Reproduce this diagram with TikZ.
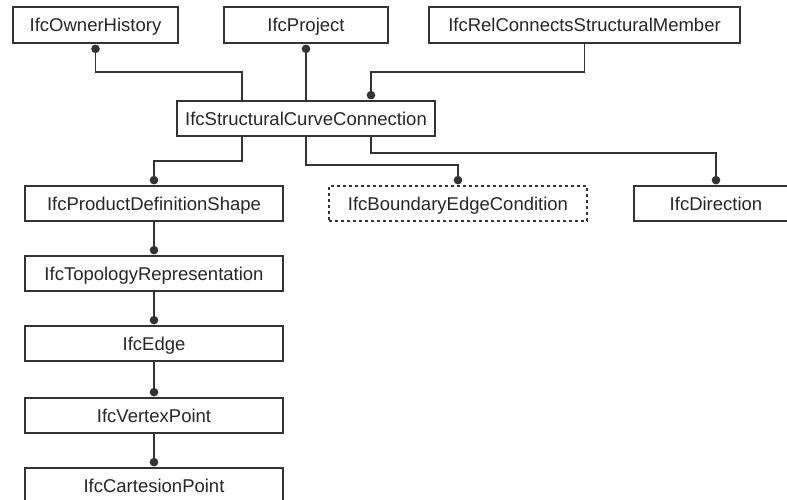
\documentclass[tikz,border=0pt]{standalone}
\usepackage{fontspec}
\setmainfont{Liberation Sans}
\usetikzlibrary{arrows.meta}
\begin{document}
\begin{tikzpicture}[x=1pt,y=-1pt,
  ent/.style={draw=black!80, line width=1.2pt, rectangle, inner sep=0pt,
    minimum height=36pt, text height=13.3pt, text depth=0pt,
    font=\fontsize{18.5}{20}\selectfont, text=black!85},
  entd/.style={ent, dashed, dash pattern=on 3pt off 3pt},
  conn/.style={draw=black!80, line width=1.2pt},
  dotend/.style={conn, -{Circle[length=8.5pt, width=8.5pt]}, shorten >=1pt},
  dotstart/.style={conn, {Circle[length=8.5pt, width=8.5pt]}-, shorten <=1pt}]
\useasboundingbox (0,0) rectangle (787,499);
\fill[white] (0,0) rectangle (787,499);
% top row
\node[ent, minimum width=165pt] (own) at (95.5,25) {IfcOwnerHistory};
\node[ent, minimum width=164pt] (proj) at (306,25) {IfcProject};
\node[ent, minimum width=311pt] (rel) at (584.5,25) {IfcRelConnectsStructuralMember};
% central
\node[ent, minimum width=258pt, minimum height=35pt] (scc) at (306,118.5) {IfcStructuralCurveConnection};
% second row
\node[ent, minimum width=258pt, minimum height=35pt] (pds) at (154,203.5) {IfcProductDefinitionShape};
\node[entd, minimum width=258pt, minimum height=35pt] (bec) at (458,203.5) {IfcBoundaryEdgeCondition};
\node[ent, minimum width=164pt, minimum height=35pt] (dir) at (716,203.5) {IfcDirection};
% chain
\node[ent, minimum width=258pt, minimum height=35pt] (topo) at (154,273.5) {IfcTopologyRepresentation};
\node[ent, minimum width=258pt, minimum height=35pt] (edge) at (154,343.5) {IfcEdge};
\node[ent, minimum width=258pt, minimum height=35pt] (vert) at (154,415.5) {IfcVertexPoint};
\node[ent, minimum width=258pt, minimum height=35pt] (cart) at (154,485.5) {IfcCartesionPoint};
% connectors top
\draw[dotstart] (own.south) |- (242,72) -- ([xshift=-64pt]scc.north);
\draw[dotstart] (proj.south) -- (scc.north);
\draw[dotend] (rel.south) |- (371,72) -- ([xshift=65pt]scc.north);
% connectors from scc
\draw[dotend] ([xshift=-64pt]scc.south) |- (154,161) -- (pds.north);
\draw[dotend] (scc.south) |- (458,165) -- (bec.north);
\draw[dotend] ([xshift=65pt]scc.south) |- (716,153) -- (dir.north);
% chain
\draw[dotend] (pds.south) -- (topo.north);
\draw[dotend] (topo.south) -- (edge.north);
\draw[dotend] (edge.south) -- (vert.north);
\draw[dotend] (vert.south) -- (cart.north);
\end{tikzpicture}
\end{document}
